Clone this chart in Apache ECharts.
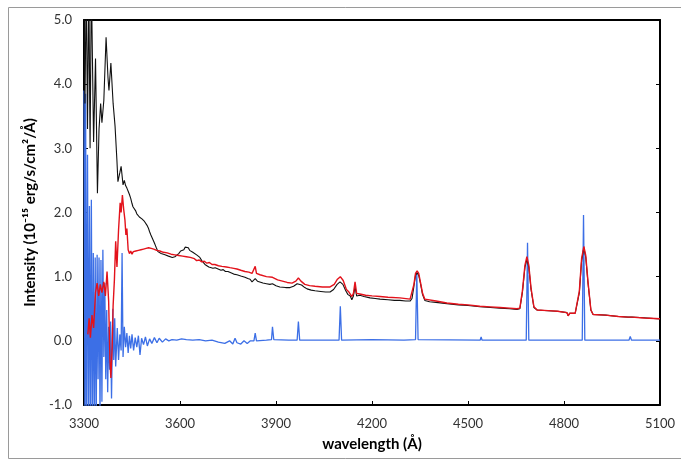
<!DOCTYPE html>
<html><head><meta charset="utf-8">
<script src="https://cdn.jsdelivr.net/npm/echarts@6/dist/echarts.min.js"></script>
<style>html,body{margin:0;padding:0;background:#fff}#c{width:681px;height:460px}</style>
</head><body><div id="c"></div>
<script>
const xTicks = [3300, 3600, 3900, 4200, 4500, 4800, 5100];
const yTicks = [-1, 0, 1, 2, 3, 4, 5];

const blackWl = [3300,3303,3307,3311,3315,3319,3323,3330,3336,3342,3347,3352,3356,3362,3369,3375,3378,3384,3391,3397,3403,3406,3412,3416,3422,3426,3430,3434,3438,3442,3446,3450,3453,3457,3461,3465,3469,3473,3477,3481,3485,3489,3493,3497,3501,3505,3509,3513,3517,3522,3526,3531,3536,3541,3546,3553,3558,3564,3570,3576,3584,3590,3596,3602,3607,3612,3616,3621,3626,3630,3634,3640,3646,3652,3657,3662,3668,3673,3678,3684,3690,3696,3703,3710,3719,3728,3735,3742,3750,3756,3768,3778,3790,3803,3812,3819,3825,3830,3835,3842,3859,3870,3881,3889,3900,3912,3930,3944,3955,3966,3972,3980,3990,3997,4010,4022,4040,4055,4069,4080,4091,4100,4109,4118,4125,4132,4137,4142,4147,4152,4162,4175,4194,4210,4225,4250,4270,4287,4305,4319,4325,4331,4336,4341,4346,4352,4358,4365,4380,4400,4434,4470,4500,4537,4570,4600,4630,4653,4662,4670,4678,4684,4690,4697,4706,4716,4750,4780,4809,4813,4818,4835,4841,4848,4855,4862,4868,4875,4884,4891,4930,4970,5000,5006,5012,5050,5100];
const blackVal = [5.6,3.7,5.6,3.3,5.6,3.0,5.6,3.1,4.4,2.3,3.3,3.7,3.4,3.75,4.73,4.1,3.9,4.33,3.7,3.35,2.8,2.48,2.62,2.72,2.43,2.5,2.42,2.38,2.33,2.28,2.22,2.14,2.09,2.06,2.03,1.98,1.96,1.93,1.95,1.90,1.89,1.86,1.84,1.80,1.76,1.70,1.65,1.62,1.56,1.50,1.45,1.39,1.40,1.36,1.37,1.34,1.35,1.32,1.34,1.30,1.31,1.33,1.36,1.40,1.43,1.42,1.46,1.44,1.45,1.41,1.42,1.38,1.36,1.34,1.32,1.30,1.25,1.22,1.19,1.16,1.15,1.16,1.13,1.14,1.12,1.10,1.11,1.08,1.08,1.06,1.04,1.03,1.01,0.99,0.97,0.96,0.92,0.95,0.97,0.93,0.90,0.89,0.88,0.89,0.86,0.84,0.83,0.83,0.85,0.89,0.90,0.87,0.83,0.81,0.79,0.78,0.77,0.76,0.76,0.80,0.88,0.92,0.88,0.78,0.72,0.70,0.64,0.70,0.84,0.70,0.71,0.69,0.67,0.66,0.65,0.64,0.63,0.63,0.62,0.62,0.66,0.85,1.02,1.06,1.02,0.88,0.72,0.63,0.61,0.60,0.58,0.56,0.55,0.53,0.52,0.51,0.50,0.49,0.50,0.75,1.15,1.27,1.15,0.80,0.52,0.48,0.47,0.46,0.44,0.39,0.43,0.43,0.45,0.75,1.25,1.45,1.30,0.90,0.48,0.41,0.40,0.38,0.37,0.38,0.37,0.36,0.34];

const redWl = [3312,3316,3320,3325,3330,3336,3341,3346,3351,3356,3362,3367,3372,3377,3381,3384,3388,3391,3395,3399,3403,3408,3413,3416,3420,3424,3428,3431,3434,3438,3442,3446,3450,3454,3458,3462,3466,3470,3474,3478,3482,3486,3490,3494,3498,3502,3506,3510,3514,3518,3522,3527,3532,3537,3542,3548,3554,3560,3566,3572,3578,3584,3590,3596,3602,3608,3614,3620,3626,3632,3638,3645,3652,3660,3668,3676,3684,3692,3700,3709,3720,3731,3745,3756,3768,3778,3790,3803,3815,3825,3831,3835,3839,3850,3870,3889,3905,3920,3935,3950,3962,3970,3978,3990,4005,4022,4045,4069,4082,4092,4101,4110,4120,4128,4137,4142,4147,4152,4162,4180,4200,4225,4250,4287,4319,4325,4331,4336,4341,4346,4352,4358,4365,4400,4434,4470,4500,4537,4570,4600,4630,4653,4662,4670,4678,4684,4690,4697,4706,4716,4750,4780,4809,4813,4818,4835,4841,4848,4855,4862,4868,4875,4884,4891,4930,4970,5000,5006,5012,5050,5100];
const redVal = [0.1,0.35,0.05,0.4,0.2,0.75,0.9,0.7,0.88,0.75,0.92,0.7,1.08,0.62,-0.3,-0.58,-0.1,0.55,0.95,1.55,1.15,1.73,2.15,2.0,2.27,2.05,1.88,1.65,1.75,1.42,1.36,1.40,1.35,1.39,1.36,1.40,1.37,1.41,1.38,1.42,1.39,1.43,1.40,1.44,1.41,1.45,1.42,1.44,1.41,1.43,1.40,1.41,1.38,1.40,1.37,1.38,1.35,1.37,1.34,1.35,1.32,1.34,1.31,1.33,1.30,1.32,1.29,1.31,1.28,1.30,1.27,1.28,1.25,1.26,1.23,1.24,1.21,1.22,1.19,1.19,1.17,1.16,1.15,1.14,1.13,1.12,1.10,1.08,1.07,1.05,1.05,1.16,1.05,1.03,1.00,0.99,0.95,0.93,0.91,0.90,0.93,0.98,0.93,0.88,0.86,0.85,0.84,0.84,0.88,0.96,1.00,0.94,0.80,0.76,0.69,0.74,0.92,0.74,0.73,0.71,0.70,0.69,0.68,0.67,0.65,0.68,0.88,1.05,1.09,1.05,0.90,0.74,0.65,0.62,0.59,0.57,0.56,0.54,0.53,0.52,0.51,0.50,0.51,0.78,1.18,1.31,1.18,0.82,0.53,0.48,0.47,0.46,0.44,0.39,0.43,0.43,0.45,0.78,1.28,1.47,1.33,0.92,0.48,0.41,0.40,0.38,0.37,0.385,0.37,0.355,0.345];

const blueWl = [3300,3303,3305,3308,3311,3314,3317,3320,3323,3326,3329,3332,3335,3338,3341,3344,3347,3350,3353,3356,3359,3362,3365,3368,3371,3374,3377,3380,3383,3386,3390,3393,3396,3399,3404,3408,3412,3416,3419,3422,3426,3430,3434,3438,3442,3446,3450,3455,3460,3465,3470,3475,3480,3486,3492,3498,3505,3512,3520,3528,3535,3545,3555,3565,3575,3590,3605,3620,3640,3660,3680,3700,3720,3740,3755,3765,3772,3778,3790,3800,3810,3820,3831,3835,3839,3870,3886,3889,3893,3940,3966,3970,3974,4050,4097,4101,4105,4200,4300,4336,4340,4344,4538,4541,4544,4682,4686,4690,4857,4861,4865,5003,5007,5011,5100];
const blueVal = [3.9,-1.5,3.85,-1.5,2.9,-1.3,2.1,-1.5,2.2,-1.4,1.37,-1.2,1.3,-1.5,1.34,-0.6,1.3,-1.2,1.26,-0.95,1.42,-0.25,0.9,-0.6,0.48,-0.8,0.22,-0.45,0.3,-0.9,0.5,-0.3,0.35,-0.4,0.2,-0.3,0.1,-0.15,1.37,-0.25,0.22,-0.1,0.12,-0.19,0.08,-0.12,0.1,-0.15,0.05,-0.1,0.08,-0.22,0.04,-0.06,0.06,-0.08,0.03,-0.04,0.05,-0.03,0.04,-0.02,0.03,0.0,0.02,0.01,0.03,0.02,0.01,0.02,0.0,0.01,-0.02,-0.04,0.0,-0.05,0.04,-0.03,-0.05,0.0,-0.04,0.0,0.0,0.12,0.0,0.01,0.02,0.22,0.02,0.01,0.01,0.3,0.01,0.01,0.01,0.54,0.01,0.02,0.01,0.02,1.07,0.02,0.01,0.06,0.01,0.01,1.53,0.01,0.01,1.96,0.01,0.01,0.07,0.01,0.01];

function pairs(w, v) { return w.map((x, i) => [x, v[i]]); }

const FONT = 'Lato, "Open Sans", "DejaVu Sans", sans-serif';
const chart = echarts.init(document.getElementById('c'), null, {renderer: 'canvas'});
chart.setOption({
  animation: false,
  backgroundColor: '#fff',
  graphic: [{
    type: 'rect', left: 6, top: 5, shape: {width: 700, height: 451},
    style: {fill: 'none', stroke: '#9a9a9a', lineWidth: 1}, silent: true
  }],
  grid: {left: 84, top: 20, right: 21, bottom: 55, containLabel: false},
  xAxis: [{
    type: 'value', min: 3300, max: 5100, interval: 300,
    name: 'wavelength (Å)', nameLocation: 'middle', nameGap: 32,
    nameTextStyle: {fontFamily: FONT, fontWeight: 'bold', fontSize: 15, color: '#000'},
    axisLine: {show: true, onZero: false, lineStyle: {color: '#000', width: 2}},
    axisTick: {show: true, inside: true, length: 4, lineStyle: {color: '#000', width: 1}},
    axisLabel: {fontFamily: FONT, fontSize: 13, color: '#333', margin: 12,
      formatter: v => xTicks.includes(v) ? String(v) : ''},
    splitLine: {show: false}
  }, {
    type: 'value', position: 'top', min: 3300, max: 5100, interval: 300,
    axisLine: {show: true, onZero: false, lineStyle: {color: '#000', width: 2}},
    axisTick: {show: false}, axisLabel: {show: false}, splitLine: {show: false}
  }],
  yAxis: [{
    type: 'value', min: -1, max: 5, interval: 1,
    name: 'Intensity (10⁻¹⁵ erg/s/cm²/Å)', nameLocation: 'middle', nameGap: 43,
    nameTextStyle: {fontFamily: FONT, fontWeight: 'bold', fontSize: 15, color: '#000'},
    axisLine: {show: true, onZero: false, lineStyle: {color: '#000', width: 2}},
    axisTick: {show: true, inside: true, length: 4, lineStyle: {color: '#000', width: 1}},
    axisLabel: {fontFamily: FONT, fontSize: 13, color: '#333', margin: 12,
      formatter: v => yTicks.includes(v) ? v.toFixed(1) : ''},
    splitLine: {show: false}
  }, {
    type: 'value', position: 'right', min: -1, max: 5, interval: 1,
    axisLine: {show: true, onZero: false, lineStyle: {color: '#000', width: 2}},
    axisTick: {show: true, inside: true, length: 4, lineStyle: {color: '#000', width: 1}},
    axisLabel: {show: false}, splitLine: {show: false}
  }],
  series: [
    {type: 'line', name: 'blue', data: pairs(blueWl, blueVal), showSymbol: false, symbol: 'none',
      lineStyle: {color: '#3c6fe6', width: 1.3}, clip: true},
    {type: 'line', name: 'black', data: pairs(blackWl, blackVal), showSymbol: false, symbol: 'none',
      lineStyle: {color: '#111', width: 1.1}, clip: true},
    {type: 'line', name: 'red', data: pairs(redWl, redVal), showSymbol: false, symbol: 'none',
      lineStyle: {color: '#e3121b', width: 1.4}, clip: true}
  ]
});
</script></body></html>
